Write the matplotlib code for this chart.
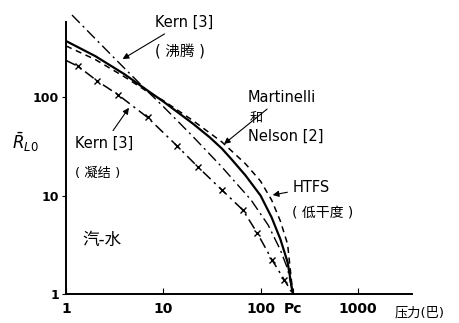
import numpy as np
import matplotlib
matplotlib.use('Agg')
import matplotlib.pyplot as plt

plt.rcParams['font.family'] = ['DejaVu Sans', 'Noto Sans CJK SC']

# Martinelli & Nelson (solid)
mn_p = [1, 2, 4, 7, 10, 20, 30, 40, 50, 70, 100, 130, 160, 190, 215]
mn_r = [370, 260, 170, 115, 90, 54, 39, 30, 23.5, 16, 10, 6, 3.6, 2.1, 1]

# HTFS, low quality (dashed)
htfs_p = [1, 2, 4, 7, 10, 20, 40, 70, 100, 130, 160, 190, 215]
htfs_r = [330, 240, 160, 112, 92, 58, 35, 21, 14, 9, 5.5, 3.2, 1]

# Kern boiling (dash-dot)
kb_p = [1.15, 2, 4, 7.3, 10, 20, 40, 80, 120, 160, 190, 215]
kb_r = [680, 390, 195, 108, 80, 40, 19.5, 9, 5, 2.8, 1.8, 1]

# Kern condensation (dash-dot with crosses)
kc_p = [1, 1.33, 2.1, 3.4, 6.9, 13.8, 22.7, 40, 66, 92, 132, 175, 215]
kc_r = [235, 205, 145, 106, 62, 32, 19.5, 11.4, 7.1, 4.2, 2.2, 1.4, 1]

xticks = [1, 10, 100, 215, 1000]
xtick_labels = ['1', '10', '100', 'Pc', '1000']
yticks = [1, 10, 100]
ytick_labels = ['1', '10', '100']

fig = plt.figure(figsize=(4.59, 3.23), dpi=100)
ax = fig.add_axes([0.144, 0.0898, 0.754, 0.869])
ax.set_xscale('log')
ax.set_yscale('log')
ax.set_xlim(1, 10 ** 3.56)
ax.set_ylim(1, 10 ** 2.85)

ax.plot(mn_p, mn_r, color='black', lw=1.6)
ax.plot(htfs_p, htfs_r, color='black', lw=1.1, ls=(0, (4, 3)))
ax.plot(kb_p, kb_r, color='black', lw=1.0, ls=(0, (8, 3, 1.5, 3)))
ax.plot(kc_p, kc_r, color='black', lw=1.1, ls=(0, (7, 3, 1.5, 3)),
        marker='x', ms=5, mew=1.0, markevery=list(range(1, 12)))

for s in ['top', 'right']:
    ax.spines[s].set_visible(False)
ax.spines['left'].set_bounds(1, 575)
ax.spines['left'].set_linewidth(1.4)
ax.spines['bottom'].set_linewidth(1.4)

ax.set_xticks(xticks)
ax.set_xticklabels(xtick_labels, fontsize=10, fontweight='bold')
ax.set_yticks(yticks)
ax.set_yticklabels(ytick_labels, fontsize=9, fontweight='bold')
ax.minorticks_off()
ax.tick_params(axis='x', direction='in', length=4, pad=6)
ax.tick_params(axis='y', direction='out', length=3, pad=2)

fs = 10.5
arrow = dict(arrowstyle='-|>', color='black', lw=0.8, mutation_scale=9)

ax.annotate('Kern [3]', xy=(3.6, 235), xytext=(8.2, 575), fontsize=fs,
            va='center', ha='left', arrowprops=arrow)
ax.text(8.2, 288, '( 沸腾 )', fontsize=fs, va='center')

ax.annotate('Martinelli', xy=(40, 32), xytext=(74, 100), fontsize=fs,
            va='center', ha='left', arrowprops=arrow)
ax.text(78, 61, '和', fontsize=fs - 1, va='center')
ax.text(74, 40, 'Nelson [2]', fontsize=fs, va='center')

ax.annotate('HTFS', xy=(125, 10), xytext=(215, 12), fontsize=fs,
            va='center', ha='left', arrowprops=arrow)
ax.text(209, 6.8, '( 低干度 )', fontsize=fs - 0.5, va='center')

ax.annotate('Kern [3]', xy=(4.6, 82), xytext=(1.24, 34), fontsize=fs,
            va='center', ha='left', arrowprops=arrow)
ax.text(1.24, 17, '( 凝结 )', fontsize=fs - 1, va='center')

ax.text(1.46, 3.5, '汽-水', fontsize=fs + 1.5, va='center')

fig.text(395 / 459, 1 - 313 / 323, '压力(巴)', fontsize=9.5, va='center')
fig.text(12 / 459, 1 - 142 / 323, r'$\bar{R}_{L0}$', fontsize=12, va='center')

fig.savefig('out.png', dpi=100, facecolor='white')
